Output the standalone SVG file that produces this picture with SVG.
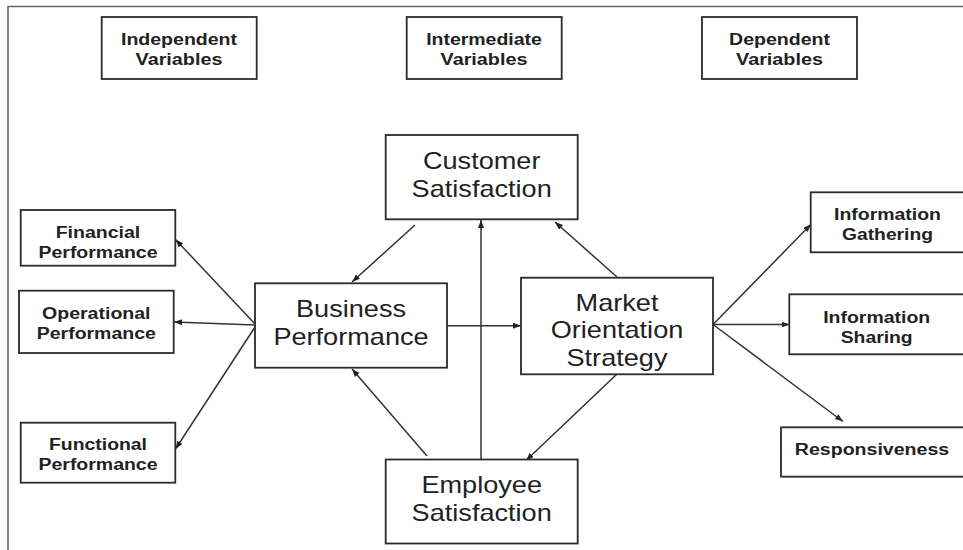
<svg xmlns="http://www.w3.org/2000/svg" width="963" height="550" viewBox="0 0 963 550">
<defs>
<style>
.box{fill:#fff;stroke:#2b2b2b;stroke-width:1.8}
.big{font-family:"Liberation Sans",Arial,sans-serif;font-size:24px;fill:#222;text-anchor:middle}
.sm{font-family:"Liberation Sans",Arial,sans-serif;font-size:16px;font-weight:bold;fill:#222;text-anchor:middle}
.edge{stroke:#333;stroke-width:1.5;fill:none;marker-end:url(#ah)}
.frame{stroke:#666;stroke-width:1.6;fill:none}
</style>
<marker id="ah" markerWidth="9" markerHeight="7" refX="8" refY="3" orient="auto" markerUnits="userSpaceOnUse">
<path d="M0,0 L8,3 L0,6 z" fill="#222"/>
</marker>
</defs>
<rect width="963" height="550" fill="#fff"/>
<path class="frame" d="M8,550 L8,6.5 L963,6.5"/>

<g id="independent-variables">
<rect class="box" x="101.7" y="17" width="155" height="62"/>
<text class="sm" x="179" y="45.3" textLength="116" lengthAdjust="spacingAndGlyphs">Independent</text>
<text class="sm" x="179" y="65" textLength="86.8" lengthAdjust="spacingAndGlyphs">Variables</text>
</g>
<g id="intermediate-variables">
<rect class="box" x="406.7" y="17" width="155" height="62"/>
<text class="sm" x="484" y="45.3" textLength="115.7" lengthAdjust="spacingAndGlyphs">Intermediate</text>
<text class="sm" x="484" y="65" textLength="86.8" lengthAdjust="spacingAndGlyphs">Variables</text>
</g>
<g id="dependent-variables">
<rect class="box" x="702" y="17" width="155" height="62"/>
<text class="sm" x="779.5" y="45.3" textLength="100.9" lengthAdjust="spacingAndGlyphs">Dependent</text>
<text class="sm" x="779.5" y="65" textLength="86.8" lengthAdjust="spacingAndGlyphs">Variables</text>
</g>

<g id="connectors">
<line class="edge" x1="415" y1="225" x2="352" y2="282"/>
<line class="edge" x1="617" y1="277" x2="555" y2="222"/>
<line class="edge" x1="481" y1="460" x2="481" y2="220"/>
<line class="edge" x1="447" y1="325.7" x2="521" y2="325.7"/>
<line class="edge" x1="427" y1="456" x2="352" y2="369"/>
<line class="edge" x1="617" y1="374" x2="526" y2="460.5"/>
<line class="edge" x1="255" y1="324" x2="175.5" y2="239.5"/>
<line class="edge" x1="255" y1="325" x2="174" y2="322"/>
<line class="edge" x1="255" y1="327" x2="175.5" y2="449"/>
<line class="edge" x1="713" y1="324.5" x2="811" y2="224.3"/>
<line class="edge" x1="713" y1="324.5" x2="789.5" y2="324.5"/>
<line class="edge" x1="713" y1="324.5" x2="843" y2="421.5"/>
</g>

<g id="customer-satisfaction">
<rect class="box" x="385.7" y="135" width="192" height="84.3"/>
<text class="big" x="481.7" y="168.5" textLength="117.5" lengthAdjust="spacingAndGlyphs">Customer</text>
<text class="big" x="481.7" y="196.7" textLength="140.2" lengthAdjust="spacingAndGlyphs">Satisfaction</text>
</g>
<g id="business-performance">
<rect class="box" x="255" y="283.3" width="192" height="84.4"/>
<text class="big" x="351" y="316.7" textLength="110" lengthAdjust="spacingAndGlyphs">Business</text>
<text class="big" x="351" y="345" textLength="155.2" lengthAdjust="spacingAndGlyphs">Performance</text>
</g>
<g id="market-orientation-strategy">
<rect class="box" x="521" y="277.7" width="192" height="96.6"/>
<text class="big" x="617" y="310.7" textLength="82.9" lengthAdjust="spacingAndGlyphs">Market</text>
<text class="big" x="617" y="338.3" textLength="132.6" lengthAdjust="spacingAndGlyphs">Orientation</text>
<text class="big" x="617" y="366" textLength="101" lengthAdjust="spacingAndGlyphs">Strategy</text>
</g>
<g id="employee-satisfaction">
<rect class="box" x="385.7" y="459.5" width="192" height="84"/>
<text class="big" x="481.7" y="493.3" textLength="120.6" lengthAdjust="spacingAndGlyphs">Employee</text>
<text class="big" x="481.7" y="521" textLength="140.2" lengthAdjust="spacingAndGlyphs">Satisfaction</text>
</g>

<g id="financial-performance">
<rect class="box" x="20.7" y="210" width="154.6" height="55.7"/>
<text class="sm" x="98" y="237.7" textLength="84.6" lengthAdjust="spacingAndGlyphs">Financial</text>
<text class="sm" x="98" y="257.7" textLength="119" lengthAdjust="spacingAndGlyphs">Performance</text>
</g>
<g id="operational-performance">
<rect class="box" x="19" y="290.7" width="154.7" height="62.3"/>
<text class="sm" x="96.3" y="319.3" textLength="108.4" lengthAdjust="spacingAndGlyphs">Operational</text>
<text class="sm" x="96.3" y="339.3" textLength="119" lengthAdjust="spacingAndGlyphs">Performance</text>
</g>
<g id="functional-performance">
<rect class="box" x="20.7" y="422.7" width="154.6" height="60"/>
<text class="sm" x="98" y="450" textLength="98" lengthAdjust="spacingAndGlyphs">Functional</text>
<text class="sm" x="98" y="470" textLength="119" lengthAdjust="spacingAndGlyphs">Performance</text>
</g>

<g id="information-gathering">
<rect class="box" x="810.7" y="192.3" width="160" height="60"/>
<text class="sm" x="887.5" y="220" textLength="107" lengthAdjust="spacingAndGlyphs">Information</text>
<text class="sm" x="887.5" y="240" textLength="91" lengthAdjust="spacingAndGlyphs">Gathering</text>
</g>
<g id="information-sharing">
<rect class="box" x="789.3" y="294.3" width="180" height="60"/>
<text class="sm" x="876.7" y="322.7" textLength="107" lengthAdjust="spacingAndGlyphs">Information</text>
<text class="sm" x="876.7" y="342.7" textLength="72" lengthAdjust="spacingAndGlyphs">Sharing</text>
</g>
<g id="responsiveness">
<rect class="box" x="781" y="427.3" width="190" height="49.4"/>
<text class="sm" x="872" y="455" textLength="154.3" lengthAdjust="spacingAndGlyphs">Responsiveness</text>
</g>
</svg>
